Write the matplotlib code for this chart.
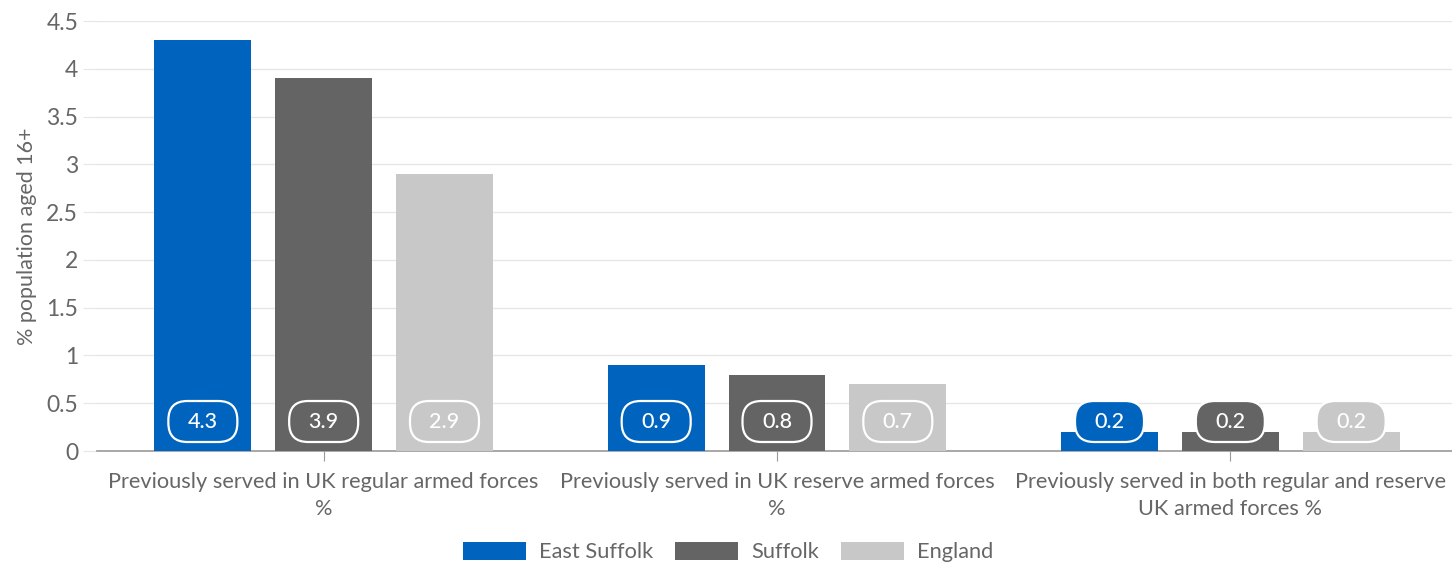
import matplotlib
matplotlib.use("Agg")
import matplotlib.pyplot as plt
import matplotlib.transforms as mtransforms
from matplotlib.patches import FancyBboxPatch, Patch
import numpy as np

categories = [
    "Previously served in UK regular armed forces\n%",
    "Previously served in UK reserve armed forces\n%",
    "Previously served in both regular and reserve\nUK armed forces %",
]
series_names = ["East Suffolk", "Suffolk", "England"]
east_suffolk = [4.3, 0.9, 0.2]
suffolk = [3.9, 0.8, 0.2]
england = [2.9, 0.7, 0.2]
series_values = [east_suffolk, suffolk, england]
colors = ["#0063BE", "#646464", "#C8C8C8"]
yticks = [0, 0.5, 1, 1.5, 2, 2.5, 3, 3.5, 4, 4.5]
ytick_labels = ["0", "0.5", "1", "1.5", "2", "2.5", "3", "3.5", "4", "4.5"]

plt.rcParams["font.family"] = ["Lato", "DejaVu Sans"]
TXT = "#666666"

W, H = 1452, 563
fig = plt.figure(figsize=(W / 100, H / 100), dpi=100)
ax = fig.add_axes([97 / W, (H - 451) / H, (1457 - 97) / W, (451 - 21) / H])

x = np.arange(len(categories))
bw = 0.2137
step = 0.2665
for i, (vals, col, name) in enumerate(zip(series_values, colors, series_names)):
    xs = x + (i - 1) * step
    ax.bar(xs, vals, width=bw, color=col, zorder=3, label=name)

ax.set_xlim(-0.5, 2.5)
ax.set_ylim(0, 4.5)
ax.set_yticks(yticks)
ax.set_yticklabels(ytick_labels)
ax.set_xticks(x)
ax.set_xticklabels(categories, linespacing=1.45)
for s in ["top", "right", "left"]:
    ax.spines[s].set_visible(False)
ax.spines["bottom"].set_color("#999999")
ax.spines["bottom"].set_linewidth(1.2)
ax.grid(axis="y", color="#e6e6e6", linewidth=1.0, zorder=0)
ax.tick_params(axis="y", length=10, color="#e6e6e6", labelcolor=TXT, labelsize=16.5, pad=3.5)
ax.tick_params(axis="x", length=7, color="#999999", labelcolor=TXT, labelsize=15.7, pad=8)
ax.set_ylabel("% population aged 16+", color=TXT, fontsize=15.5, labelpad=7)

# data labels
for i, (vals, col) in enumerate(zip(series_values, colors)):
    xs = x + (i - 1) * step
    for xv, v in zip(xs, vals):
        tr = mtransforms.Affine2D() + mtransforms.ScaledTranslation(xv, 0, ax.transData)
        p = FancyBboxPatch((-34.5, 9), 69, 41,
                           boxstyle="round,pad=0,rounding_size=19",
                           facecolor=col, edgecolor="white", linewidth=1.6,
                           transform=tr, zorder=4, clip_on=False)
        ax.add_patch(p)
        ax.annotate(f"{v}", xy=(xv, 0), xytext=(0, 29.5 * 0.72),
                    textcoords="offset points", ha="center", va="center",
                    color="white", fontsize=15.5, fontweight="medium", zorder=5)

handles = [Patch(facecolor=c, edgecolor="none") for c in colors]
leg = fig.legend(handles, series_names, loc="center", bbox_to_anchor=(728 / W, (H - 552) / H),
                 ncol=3, frameon=False, fontsize=15.7, handlelength=2.9, handleheight=0.9,
                 columnspacing=1.0, handletextpad=0.6)
for t in leg.get_texts():
    t.set_color(TXT)

fig.savefig("out.png", dpi=100)
